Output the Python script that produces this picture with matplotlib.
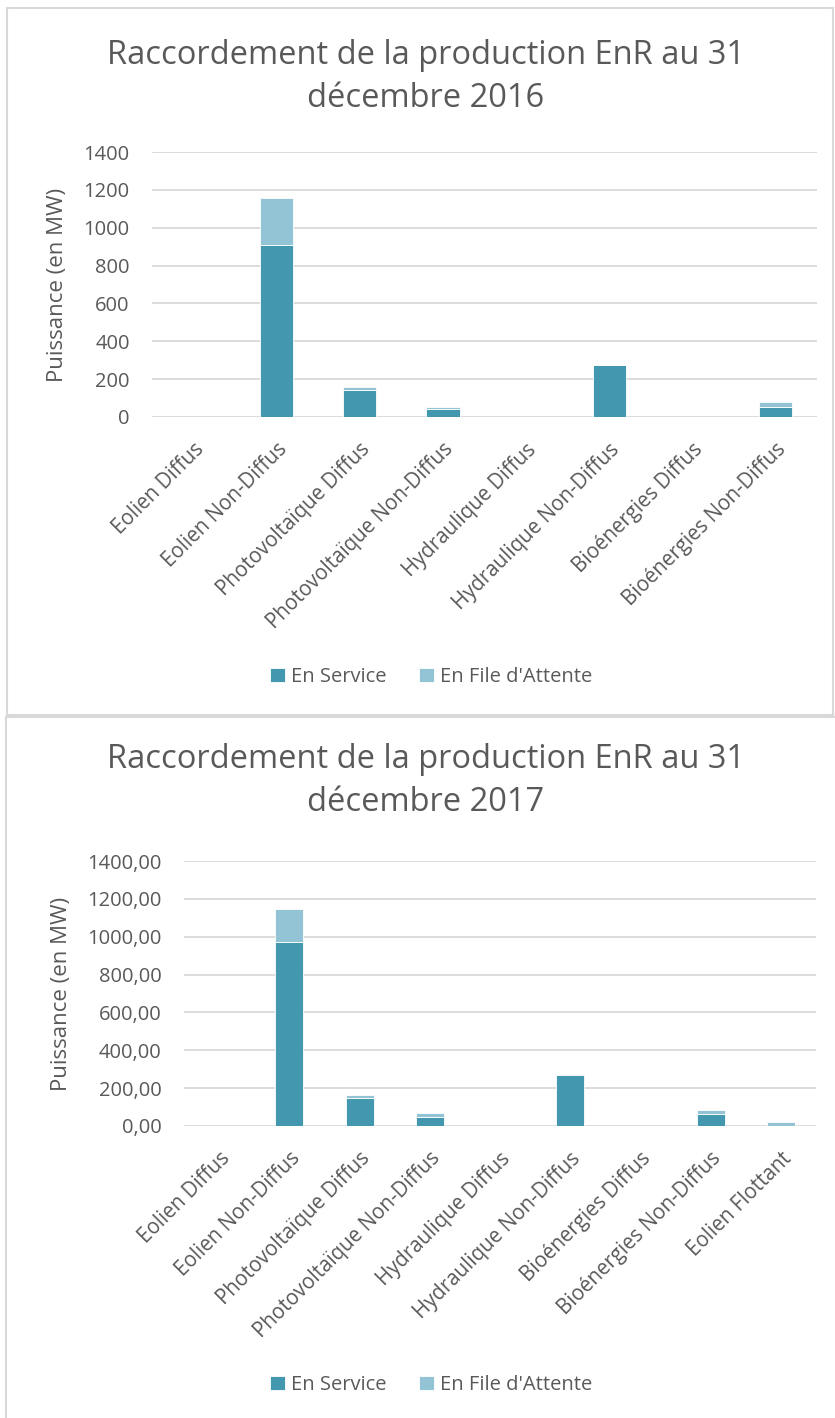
import numpy as np
import matplotlib.pyplot as plt
from matplotlib.lines import Line2D
from matplotlib.patches import Rectangle

plt.rcParams['font.family'] = ['Open Sans', 'DejaVu Sans']

# données 2016
cats_2016 = ['Eolien Diffus', 'Eolien Non-Diffus', 'Photovoltaïque Diffus',
             'Photovoltaïque Non-Diffus', 'Hydraulique Diffus',
             'Hydraulique Non-Diffus', 'Bioénergies Diffus', 'Bioénergies Non-Diffus']
service_2016 = [1, 910, 142, 42, 1, 275, 1, 51]
attente_2016 = [0, 248, 14, 9, 0, 2, 0, 28]

# données 2017
cats_2017 = cats_2016 + ['Eolien Flottant']
service_2017 = [1, 973, 150, 49, 1, 271, 1, 65, 0]
attente_2017 = [0, 172, 14, 18, 0, 3, 0, 20, 21]

yticks = [0, 200, 400, 600, 800, 1000, 1200, 1400]

DARK = '#4398b0'
LIGHT = '#93c4d5'
GREY = '#595959'
GRID = '#d9d9d9'

W, H = 835, 1418
fig = plt.figure(figsize=(W / 100, H / 100), dpi=100)


def px(x, y):
    return x / W, 1 - y / H


def panel(ax, cats, serv, att, year, fmt, title_y, label_x, legend_y):
    x = np.arange(len(cats))
    ax.bar(x, serv, width=0.4, color=DARK, edgecolor='white', linewidth=0.6,
           label='En Service', zorder=3)
    ax.bar(x, att, width=0.4, bottom=serv, color=LIGHT, edgecolor='white',
           linewidth=0.6, label="En File d'Attente", zorder=3)
    ax.set_xlim(-0.5, len(cats) - 0.5)
    ax.set_ylim(0, 1400)
    ax.set_yticks(yticks)
    ax.set_yticklabels([fmt(v) for v in yticks])
    ax.set_xticks(x)
    ax.set_xticklabels(cats, rotation=45, ha='right', va='top',
                       rotation_mode='anchor')
    ax.tick_params(axis='y', length=0, pad=16, labelsize=14.5, labelcolor=GREY)
    ax.tick_params(axis='x', length=0, pad=16, labelsize=14.8, labelcolor=GREY)
    ax.grid(axis='y', color=GRID, linewidth=1.3, zorder=0)
    for s in ax.spines.values():
        s.set_visible(False)
    fx, fy = px(426, title_y)
    fig.text(fx, fy, 'Raccordement de la production EnR au 31\ndécembre ' + year,
             ha='center', va='center', fontsize=23.5, color=GREY, linespacing=1.4)
    lx, ly = px(label_x, 0)
    ax_box = ax.get_position()
    fig.text(lx, ax_box.y0 + ax_box.height / 2, 'Puissance (en MW)',
             rotation=90, ha='center', va='center', fontsize=16, color=GREY)
    gx, gy = px(431, legend_y)
    fig.legend(*ax.get_legend_handles_labels(), loc='center', bbox_to_anchor=(gx, gy),
               ncol=2, frameon=False, fontsize=14.5, labelcolor=GREY,
               handlelength=0.75, handleheight=0.75, handletextpad=0.3,
               columnspacing=1.6)


# cadres
fig.add_artist(Rectangle(px(7, 715), 826 / W, 707 / H, transform=fig.transFigure,
                         fill=False, edgecolor=GRID, linewidth=1.5))
fig.add_artist(Line2D([6 / W, 6 / W], [1 - 717 / H, 0], transform=fig.transFigure,
                      color=GRID, linewidth=1.5))
fig.add_artist(Line2D([6 / W, 1], [1 - 717 / H, 1 - 717 / H], transform=fig.transFigure,
                      color=GRID, linewidth=1.5))

ax1 = fig.add_axes([152 / W, 1 - 417 / H, 665 / W, 265 / H])
panel(ax1, cats_2016, service_2016, attente_2016, '2016',
      lambda v: f'{v}', 77, 57, 677)

ax2 = fig.add_axes([184 / W, 1 - 1126 / H, 632 / W, 265 / H])
panel(ax2, cats_2017, service_2017, attente_2017, '2017',
      lambda v: f'{v},00', 781, 62, 1385)

fig.savefig('out.png', dpi=100)
